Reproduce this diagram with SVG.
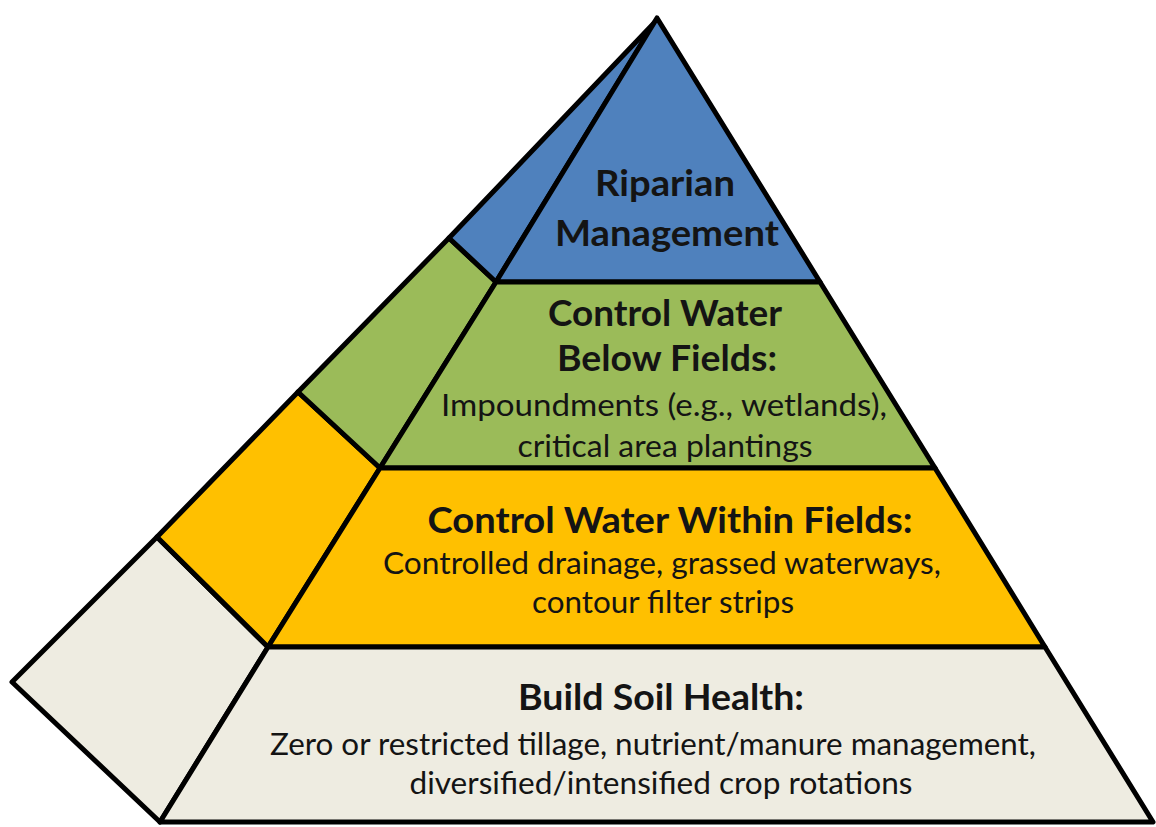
<svg xmlns="http://www.w3.org/2000/svg" width="1156" height="827" viewBox="0 0 1156 827">
<style>
.s{stroke:#000;stroke-width:5;stroke-linejoin:round}
.blue{fill:#4F81BD}.green{fill:#9BBB59}.yellow{fill:#FFC000}.gray{fill:#EEECE1}
text{font-family:Lato,"Open Sans","Liberation Sans",sans-serif;fill:#141414;text-anchor:middle}
.b{font-weight:bold;font-size:37px}
.r{font-size:31px}
</style>
<rect width="1156" height="827" fill="#fff"/>
<g id="side-face">
<polygon class="s gray" points="157,537 268,647 160,822 12,682"/>
<polygon class="s yellow" points="298,392 380,468 268,647 157,537"/>
<polygon class="s green" points="449,238 496,282 380,468 298,392"/>
<polygon class="s blue" points="655,22 496,282 449,238"/>
</g>
<g id="riparian">
<polygon class="s blue" points="657,18 820,282 496,282"/>
<text class="b" x="665" y="196" textLength="140" lengthAdjust="spacingAndGlyphs">Riparian</text>
<text class="b" x="667" y="246" textLength="224" lengthAdjust="spacingAndGlyphs">Management</text>
</g>
<g id="below-fields">
<polygon class="s green" points="496,282 820,282 935,468 380,468"/>
<text class="b" x="665" y="326" textLength="234" lengthAdjust="spacingAndGlyphs">Control Water</text>
<text class="b" x="667" y="371" textLength="220" lengthAdjust="spacingAndGlyphs">Below Fields:</text>
<text class="r" x="664" y="416" textLength="446" lengthAdjust="spacingAndGlyphs">Impoundments (e.g., wetlands),</text>
<text class="r" x="665" y="457" textLength="295" lengthAdjust="spacingAndGlyphs">critical area plantings</text>
</g>
<g id="within-fields">
<polygon class="s yellow" points="380,468 935,468 1045,647 268,647"/>
<text class="b" x="670" y="533" textLength="485" lengthAdjust="spacingAndGlyphs">Control Water Within Fields:</text>
<text class="r" x="662" y="574" textLength="558" lengthAdjust="spacingAndGlyphs">Controlled drainage, grassed waterways,</text>
<text class="r" x="663" y="613" textLength="262" lengthAdjust="spacingAndGlyphs">contour filter strips</text>
</g>
<g id="soil-health">
<polygon class="s gray" points="268,647 1045,647 1153,822 160,822"/>
<text class="b" x="661" y="710" textLength="286" lengthAdjust="spacingAndGlyphs">Build Soil Health:</text>
<text class="r" x="653" y="755" textLength="766" lengthAdjust="spacingAndGlyphs">Zero or restricted tillage, nutrient/manure management,</text>
<text class="r" x="661" y="794" textLength="503" lengthAdjust="spacingAndGlyphs">diversified/intensified crop rotations</text>
</g>
</svg>
